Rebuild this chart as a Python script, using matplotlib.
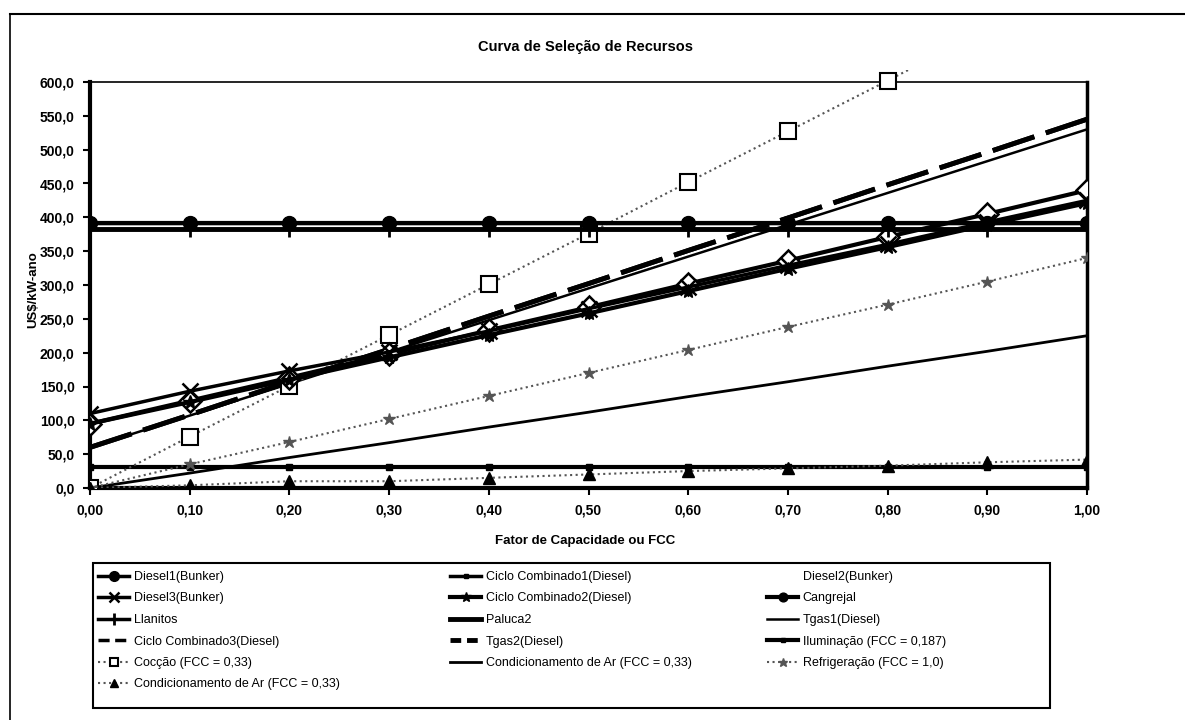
import matplotlib
matplotlib.use("Agg")
import matplotlib.pyplot as plt
from matplotlib.lines import Line2D
from matplotlib.patches import Rectangle
from matplotlib.transforms import Bbox, TransformedBbox

plt.rcParams['font.family'] = ['Liberation Sans', 'DejaVu Sans']

# ---------------- data ----------------
fcc = [0.0, 0.1, 0.2, 0.3, 0.4, 0.5, 0.6, 0.7, 0.8, 0.9, 1.0]

diesel1 = [392, 392, 392, 392, 392, 392, 392, 392, 392, 392, 392]
ciclo1 = [95, 129, 163, 198, 233, 267, 302, 336, 371, 405, 440]
diesel2 = [392, 392, 392, 392, 392, 392, 392, 392, 392, 392, 392]
diesel3 = [110, 143, 173, 201, 232, 265, 297, 329, 360, 393, 425]
ciclo2 = [95, 127, 160, 193, 226, 258, 291, 324, 356, 389, 421]
cangrejal = [391, 391, 391, 391, 391, 391, 391, 391, 391, 391, 391]
llanitos = [383, 383, 383, 383, 383, 383, 383, 383, 383, 383, 383]
paluca2 = [383, 383, 383, 383, 383, 383, 383, 383, 383, 383, 383]
tgas1 = [60, 107, 154, 201, 248, 295, 342, 389, 436, 483, 530]
ciclo3 = [60, 108, 157, 205, 254, 302, 351, 399, 448, 496, 545]
tgas2 = [60, 108, 157, 205, 254, 302, 351, 399, 448, 496, 545]
iluminacao = [31, 31, 31, 31, 31, 31, 31, 31, 31, 31, 31]
coccao = [0, 76, 151, 226, 301, 376, 452, 527, 602, 678, 753]
cond_ar_linha = [0, 22, 45, 67, 90, 112, 135, 157, 180, 202, 225]
refrigeracao = [0, 35, 68, 102, 136, 170, 204, 238, 271, 305, 340]
cond_ar_tri = [0, 4, 10, 10, 15, 20, 25, 29, 33, 38, 42]

y_ticks = [0, 50, 100, 150, 200, 250, 300, 350, 400, 450, 500, 550, 600]
x_ticks = [0.0, 0.1, 0.2, 0.3, 0.4, 0.5, 0.6, 0.7, 0.8, 0.9, 1.0]

title = "Curva de Seleção de Recursos"
xlabel = "Fator de Capacidade ou FCC"
ylabel = "US$/kW-ano"

# ---------------- figure ----------------
W, H = 1185, 720
fig = plt.figure(figsize=(11.85, 7.2), dpi=100)
ax = fig.add_axes([90/W, 1-488/H, (1087-90)/W, (488-82)/H])

K = 'black'
G = '#555555'
h = {}
h['Diesel1(Bunker)'] = ax.plot(fcc, diesel1, '-', color=K, lw=2.5, marker='o', ms=10, zorder=5)[0]
h['Ciclo Combinado1(Diesel)'] = ax.plot(fcc, ciclo1, '-', color=K, lw=3, marker='D', ms=11,
                                        mfc='white', mec=K, mew=1.8, zorder=4)[0]
h['Diesel2(Bunker)'] = ax.plot(fcc, diesel2, linestyle='none', marker='none')[0]
h['Diesel3(Bunker)'] = ax.plot(fcc, diesel3, '-', color=K, lw=2.5, marker='x', ms=11, mew=1.8, zorder=4)[0]
h['Ciclo Combinado2(Diesel)'] = ax.plot(fcc, ciclo2, '-', color=K, lw=3, marker='*', ms=10, zorder=4)[0]
h['Cangrejal'] = ax.plot(fcc, cangrejal, '-', color=K, lw=3, marker='o', ms=9, zorder=5)[0]
h['Llanitos'] = ax.plot(fcc, llanitos, '-', color=K, lw=2.5, marker='+', ms=12, mew=2, zorder=4)[0]
h['Paluca2'] = ax.plot(fcc, paluca2, '-', color=K, lw=3.5, zorder=4)[0]
h['Tgas1(Diesel)'] = ax.plot(fcc, tgas1, '-', color=K, lw=1.8, zorder=3)[0]
h['Ciclo Combinado3(Diesel)'] = ax.plot(fcc, ciclo3, color=K, lw=3.5, dashes=(9, 2.5), zorder=3)[0]
h['Tgas2(Diesel)'] = ax.plot(fcc, tgas2, color=K, lw=3.5, dashes=(9, 2.5), zorder=3)[0]
h['Iluminação (FCC = 0,187)'] = ax.plot(fcc, iluminacao, '-', color=K, lw=3, marker='s', ms=4, zorder=3)[0]
h['Cocção (FCC = 0,33)'] = ax.plot(fcc, coccao, ':', color=G, lw=1.5, marker='s', ms=12,
                                    mfc='white', mec=K, mew=1.5, zorder=3)[0]
h['Condicionamento de Ar (FCC = 0,33) '] = ax.plot(fcc, cond_ar_linha, '-', color=K, lw=2, zorder=3)[0]
h['Refrigeração (FCC = 1,0)'] = ax.plot(fcc, refrigeracao, ':', color=G, lw=1.5, marker='*', ms=9,
                                         mfc=G, mec=G, zorder=3)[0]
h['Condicionamento de Ar (FCC = 0,33)'] = ax.plot(fcc, cond_ar_tri, ':', color=G, lw=1.5, marker='^', ms=8,
                                                   mfc=K, mec=K, zorder=3)[0]

# let Cocção slightly overflow the top of the plot like the original
clip = TransformedBbox(Bbox([[0, 0], [1, 1.03]]), ax.transAxes)
h['Cocção (FCC = 0,33)'].set_clip_box(clip)
h['Cocção (FCC = 0,33)'].set_clip_path(None)

ax.set_xlim(0, 1.0)
ax.set_ylim(0, 600)
ax.set_xticks(x_ticks)
ax.set_xticklabels([f"{v:.2f}".replace('.', ',') for v in x_ticks], fontsize=10, fontweight='bold')
ax.set_yticks(y_ticks)
ax.set_yticklabels([f"{v:.1f}".replace('.', ',') for v in y_ticks], fontsize=10, fontweight='bold')
ax.tick_params(axis='both', direction='out', length=5, width=1.5, pad=6)
for s in ['left', 'bottom']:
    ax.spines[s].set_linewidth(3)
ax.spines['right'].set_linewidth(2.5)
ax.spines['top'].set_linewidth(1.2)

fig.text(585/W, 1-47/H, title, ha='center', va='center', fontsize=10.5, fontweight='bold')
fig.text(585/W, 1-541/H, xlabel, ha='center', va='center', fontsize=9.5, fontweight='bold')
fig.text(33/W, 1-290/H, ylabel, ha='center', va='center', rotation=90, fontsize=9.5, fontweight='bold')

# ---------------- legend (three columns, rows as in the original) ----------------
def proxy(key, **kw):
    src = h[key]
    p = Line2D([], [])
    p.update_from(src)
    p.set(**kw)
    return p

legend_handles = dict(h)
legend_handles['Ciclo Combinado3(Diesel)'] = Line2D([], [], color=K, lw=2.5, dashes=(3.2, 1.6))
legend_handles['Tgas2(Diesel)'] = Line2D([], [], color=K, lw=3.5, dashes=(2.2, 1.2))
legend_handles['Cocção (FCC = 0,33)'] = proxy('Cocção (FCC = 0,33)', markersize=8)
legend_handles['Ciclo Combinado1(Diesel)'] = Line2D([], [], color=K, lw=2.5, marker='s', ms=5)

columns = [
    ['Diesel1(Bunker)', 'Diesel3(Bunker)', 'Llanitos', 'Ciclo Combinado3(Diesel)',
     'Cocção (FCC = 0,33)', 'Condicionamento de Ar (FCC = 0,33)'],
    ['Ciclo Combinado1(Diesel)', 'Ciclo Combinado2(Diesel)', 'Paluca2', 'Tgas2(Diesel)',
     'Condicionamento de Ar (FCC = 0,33) '],
    ['Diesel2(Bunker)', 'Cangrejal', 'Tgas1(Diesel)', 'Iluminação (FCC = 0,187)',
     'Refrigeração (FCC = 1,0)'],
]
col_x = [98, 450, 767]
for keys, x0 in zip(columns, col_x):
    fig.legend([legend_handles[k] for k in keys], [k.rstrip() for k in keys],
               loc='upper left', bbox_to_anchor=(x0/W, 1-571/H),
               fontsize=9, frameon=False, handlelength=2.5, handletextpad=0.35,
               labelspacing=0.76, borderpad=0, borderaxespad=0, markerscale=0.7)
fig.add_artist(Rectangle((93/W, 1-708/H), (1050-93)/W, (708-563)/H, transform=fig.transFigure,
                         fill=False, edgecolor=K, lw=1.5))

# outer frame of the scanned chart
fig.add_artist(Line2D([10/W, 1.0], [1-14/H, 1-14/H], color=K, lw=1.5, transform=fig.transFigure))
fig.add_artist(Line2D([10/W, 10/W], [0, 1-14/H], color=K, lw=1.2, transform=fig.transFigure))

fig.savefig('out.png', dpi=100)
